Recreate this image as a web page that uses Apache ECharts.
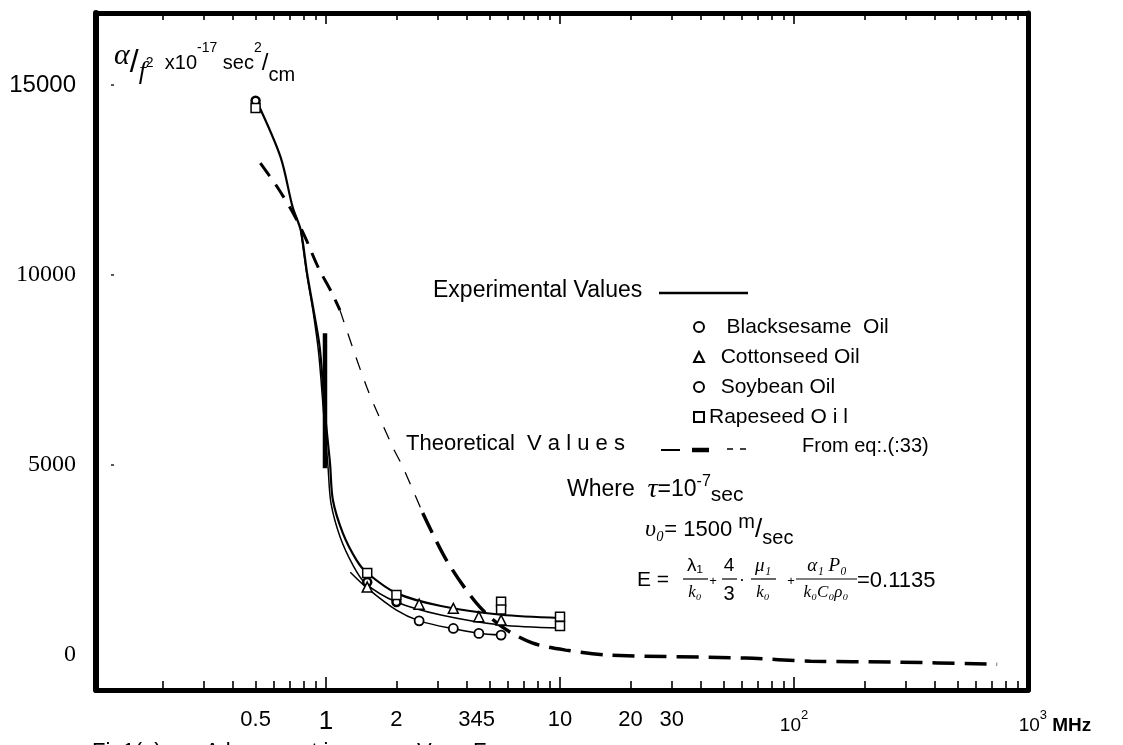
<!DOCTYPE html>
<html style="height: 100%">
<head>
    <meta charset="utf-8">
    <script type="text/javascript" src="https://cdn.jsdelivr.net/npm/echarts@6/dist/echarts.min.js"></script>
</head>
<body style="height: 100%; margin: 0; background: #fff">
    <div id="absChart" style="width: 1123px; height: 745px;"></div>

    <script type="text/javascript">
        // frequency in MHz, alpha/f^2 in 10^-17 sec^2/cm

        // experimental curves (solid)
        var upperFreq = [0.51, 0.64, 0.72, 0.78, 0.83, 0.88, 0.94, 0.99, 1.04, 1.07, 1.18, 1.35, 1.5, 2, 3.1, 5.6, 10];
        var upperVal = [14530, 13100, 11790, 11180, 10050, 9160, 8100, 6370, 5050, 4080, 3210, 2500, 2160, 1630, 1290, 1060, 975];
        var middleFreq = [0.78, 0.83, 0.88, 0.93, 0.98, 1.02, 1.05, 1.15, 1.3, 1.47, 2, 3.1, 5.6, 10];
        var middleVal = [11180, 9980, 9050, 7950, 6250, 4950, 4000, 3100, 2380, 1895, 1395, 1053, 789, 711];
        var lowerFreq = [1.27, 1.5, 2, 2.5, 3.5, 4.5, 5.6];
        var lowerVal = [2180, 1760, 1180, 900, 690, 575, 526];

        // thick bar drawn across the curve at 1 MHz
        var barFreq = [0.99, 0.99];
        var barVal = [8470, 4920];

        // theoretical curve (dashed), three stroke styles
        var theoryAFreq = [0.524, 0.619, 0.724, 0.814, 0.925, 1.06, 1.147];
        var theoryAVal = [12950, 12320, 11630, 11000, 10210, 9530, 9080];
        var theoryBFreq = [1.147, 1.494, 1.93, 2.13, 2.59];
        var theoryBVal = [9080, 7050, 5470, 4950, 3740];
        var theoryCFreq = [2.59, 3.27, 4.39, 5.66, 7.6, 10.6, 16.2, 62, 118, 264, 738];
        var theoryCVal = [3740, 2500, 1370, 740, 320, 130, 0, -80, -160, -185, -240];

        // measured points
        var blackFreq = [0.5, 1.5, 2];
        var blackVal = [14590, 1920, 1395];
        var cottonFreq = [1.5, 2.5, 3.5, 4.5, 5.6];
        var cottonVal = [1790, 1340, 1230, 1010, 920];
        var soyFreq = [2.5, 3.5, 4.5, 5.6];
        var soyVal = [900, 700, 570, 525];
        var rapeFreq = [0.5, 1.5, 2, 5.6, 5.6, 10, 10];
        var rapeVal = [14400, 2160, 1580, 1400, 1200, 1010, 765];

        // axes
        var xLabelValues = [0.5, 1, 2, 4.4, 10, 20, 30, 100, 1000];
        var xLabelTexts = ['0.5', '1', '2', '345', '10', '20', '30', '10^2', '10^3 MHz'];
        var xMajorTicks = [1, 10, 100];
        var xMinorTicks = [0.2, 0.3, 0.4, 0.5, 0.6, 0.7, 0.8, 0.9, 2, 3, 4, 5, 6, 7, 8, 9,
            20, 30, 40, 50, 60, 70, 80, 90, 200, 300, 400, 500, 600, 700, 800, 900];
        var yLabelValues = [0, 5000, 10000, 15000];
        var yMarkValues = [5000, 10000, 15000];

        var SANS = '"Liberation Sans", Arial, sans-serif';
        var SERIF = '"Liberation Serif", "Times New Roman", serif';
        var X_MIN = 0.104, X_MAX = 1000, Y_MIN = -920, Y_MAX = 16900;

        function pairs(xs, ys) {
            return xs.map(function (x, i) { return [x, ys[i]]; });
        }

        function xLabel(v) {
            for (var i = 0; i < xLabelValues.length; i++) {
                if (Math.abs(v - xLabelValues[i]) < 1e-6 * xLabelValues[i]) {
                    var s = xLabelTexts[i];
                    if (s === '1') return '{big|1}';
                    if (s === '10^2') return '{p|10}{sup|2}';
                    if (s === '10^3 MHz') return '{pad| }{p|10}{sup|3}{mhz| MHz}';
                    return s;
                }
            }
            return '';
        }

        function yLabel(v) {
            return v === 15000 ? '{n|15000}' : '{s|' + v + '}';
        }

        // one log x axis: position, ticks, tick length, draw line?, labels?
        function freqAxis(pos, ticks, len, line, labels) {
            return {
                type: 'log',
                logBase: 10,
                min: X_MIN,
                max: X_MAX,
                position: pos,
                axisLine: { show: line, onZero: false, lineStyle: { color: '#000', width: 5 } },
                axisTick: { show: true, inside: true, length: len, customValues: ticks, lineStyle: { color: '#000', width: 1.6 } },
                axisLabel: labels ? {
                    show: true,
                    customValues: xLabelValues,
                    formatter: xLabel,
                    margin: 19,
                    fontSize: 22,
                    fontFamily: SANS,
                    color: '#000',
                    rich: {
                        big: { fontSize: 26, fontFamily: SANS, color: '#000' },
                        p: { fontSize: 19, fontFamily: SANS, color: '#000', verticalAlign: 'bottom', lineHeight: 26 },
                        sup: { fontSize: 13, fontFamily: SANS, color: '#000', verticalAlign: 'top', lineHeight: 13 },
                        mhz: { fontSize: 19, fontWeight: 'bold', fontFamily: SANS, color: '#000', verticalAlign: 'bottom', lineHeight: 26 },
                        pad: { width: 54 }
                    }
                } : { show: false },
                splitLine: { show: false },
                minorTick: { show: false }
            };
        }

        function txt(x, y, s, size, extra) {
            var style = {
                text: s, fontSize: size || 22, fontFamily: SANS, fill: '#000',
                align: 'left', verticalAlign: 'middle', textAlign: 'left', textVerticalAlign: 'middle'
            };
            for (var k in (extra || {})) style[k] = extra[k];
            return { type: 'text', x: x, y: y, silent: true, style: style };
        }

        function seg(x1, y1, x2, y2, w) {
            return { type: 'line', silent: true, shape: { x1: x1, y1: y1, x2: x2, y2: y2 }, style: { stroke: '#000', lineWidth: w || 1.5 } };
        }

        var C = { align: 'center', textAlign: 'center' };
        var CI = { align: 'center', textAlign: 'center', fontStyle: 'italic', fontFamily: SERIF };
        var TOP = { verticalAlign: 'top', textVerticalAlign: 'top' };

        var notes = [
            // y axis title
            txt(114, 63, '{a|α}{sl|/}{f|f}{s2|2}  {t|x10}{sup|-17}{t| sec}{sup|2}{sl2|/}{sub|cm}', 20, {
                rich: {
                    a: { fontSize: 30, fontFamily: SERIF, fontStyle: 'italic', verticalAlign: 'top', lineHeight: 26 },
                    sl: { fontSize: 32, fontFamily: SANS, verticalAlign: 'middle', lineHeight: 44 },
                    f: { fontSize: 26, fontFamily: SERIF, fontStyle: 'italic', verticalAlign: 'bottom', lineHeight: 30 },
                    s2: { fontSize: 14, fontFamily: SANS, verticalAlign: 'middle', lineHeight: 20 },
                    t: { fontSize: 20, fontFamily: SANS, verticalAlign: 'middle', lineHeight: 20 },
                    sup: { fontSize: 14, fontFamily: SANS, verticalAlign: 'top', lineHeight: 30 },
                    sl2: { fontSize: 24, fontFamily: SANS, verticalAlign: 'middle', lineHeight: 24 },
                    sub: { fontSize: 20, fontFamily: SANS, verticalAlign: 'bottom', lineHeight: 34 }
                }
            }),
            // legend headings
            txt(433, 291, 'Experimental Values', 23),
            seg(659, 293, 748, 293, 2.5),
            txt(406, 444, 'Theoretical  V a l u e s', 22),
            seg(661, 450, 680, 450, 2),
            seg(692, 450, 709, 450, 4.5),
            seg(727, 449, 733, 449, 1.5),
            seg(740, 449, 746, 449, 1.5),
            txt(802, 446, 'From eq:.(:33)', 20),
            // parameters
            txt(567, 490, '{t|Where  }{tau|τ}{t|=10}{sup|-7}{s|sec}', 23, {
                rich: {
                    t: { fontSize: 23, fontFamily: SANS, verticalAlign: 'middle', lineHeight: 32 },
                    tau: { fontSize: 28, fontFamily: SERIF, fontStyle: 'italic', verticalAlign: 'middle', lineHeight: 32 },
                    sup: { fontSize: 16, fontFamily: SANS, verticalAlign: 'top', lineHeight: 16 },
                    s: { fontSize: 21, fontFamily: SANS, verticalAlign: 'bottom', lineHeight: 28 }
                }
            }),
            txt(645, 530, '{u|υ₀}{t|= 1500 }{sup|m}{sl|/}{sub|sec}', 22, {
                rich: {
                    u: { fontSize: 24, fontFamily: SERIF, fontStyle: 'italic', verticalAlign: 'middle', lineHeight: 36 },
                    t: { fontSize: 22, fontFamily: SANS, verticalAlign: 'middle', lineHeight: 36 },
                    sup: { fontSize: 20, fontFamily: SANS, verticalAlign: 'top', lineHeight: 20 },
                    sl: { fontSize: 26, fontFamily: SANS, verticalAlign: 'middle', lineHeight: 36 },
                    sub: { fontSize: 20, fontFamily: SANS, verticalAlign: 'bottom', lineHeight: 22 }
                }
            }),
            // E = lambda1/k0 + 4/3 . mu1/k0 + alpha1 P0/(k0 C0 rho0) = 0.1135
            txt(637, 580, 'E =', 21),
            txt(695, 566, 'λ₁', 19, C),
            seg(683, 579, 708, 579, 1.2),
            txt(695, 593, 'k₀', 17, CI),
            txt(713, 581, '+', 13, C),
            txt(729, 566, '4', 19, C),
            seg(722, 579, 737, 579, 1.2),
            txt(729, 594, '3', 20, C),
            txt(742, 580, '·', 18, C),
            txt(763, 566, 'μ₁', 19, CI),
            seg(751, 579, 776, 579, 1.2),
            txt(763, 593, 'k₀', 17, CI),
            txt(791, 581, '+', 13, C),
            txt(827, 566, 'α₁ P₀', 19, CI),
            seg(796, 579, 857, 579, 1.2),
            txt(826, 593, 'k₀C₀ρ₀', 17, CI),
            txt(857, 581, '=0.1135', 22),
            // figure caption, cut by the page edge
            txt(92, 741, 'Fig1(  )', 22, TOP),
            txt(205, 741, 'A b s o r p t i o n', 22, TOP),
            txt(417, 741, 'V s', 22, TOP),
            txt(473, 741, 'Frequency', 22, TOP)
        ];

        function solid(data, w) {
            return { type: 'line', data: data, smooth: 0.3, symbol: 'none', silent: true, z: 2,
                lineStyle: { color: '#000', width: w } };
        }

        function dashed(data, w, dash) {
            return { type: 'line', data: data, smooth: 0.3, symbol: 'none', silent: true, z: 2,
                lineStyle: { color: '#000', width: w, type: dash } };
        }

        function points(name, data, symbol, size, bw) {
            return { type: 'scatter', name: name, data: data, symbol: symbol, symbolSize: size, silent: true, z: 4,
                itemStyle: { color: '#fff', borderColor: '#000', borderWidth: bw, opacity: 1 } };
        }

        var absChart = echarts.init(document.getElementById('absChart'));

        var option = {
            animation: false,
            backgroundColor: '#fff',
            grid: { left: 96, right: 95, top: 13, bottom: 55, outerBoundsMode: 'none' },
            legend: {
                orient: 'vertical',
                left: 688,
                top: 311,
                itemWidth: 10,
                itemHeight: 10,
                itemGap: 8,
                symbolKeepAspect: true,
                selectedMode: false,
                data: ['   Blacksesame  Oil', '  Cottonseed Oil', '  Soybean Oil', 'Rapeseed O i l'],
                textStyle: { fontSize: 21, fontFamily: SANS, color: '#000', lineHeight: 22 }
            },
            xAxis: [
                freqAxis('bottom', xMajorTicks, 13, true, true),
                freqAxis('bottom', xMinorTicks, 9, false, false),
                freqAxis('top', xMajorTicks, 11, true, false),
                freqAxis('top', xMinorTicks, 7, false, false)
            ],
            yAxis: [
                {
                    type: 'value', min: Y_MIN, max: Y_MAX, position: 'left',
                    axisLine: { show: true, onZero: false, lineStyle: { color: '#000', width: 6 } },
                    axisTick: { show: false },
                    axisLabel: {
                        customValues: yLabelValues, formatter: yLabel, margin: 20, color: '#000',
                        rich: {
                            n: { fontSize: 24, fontFamily: '"Liberation Sans Narrow", "Liberation Sans", sans-serif', color: '#000' },
                            s: { fontSize: 24, fontFamily: SERIF, color: '#000' }
                        }
                    },
                    splitLine: { show: false }
                },
                {
                    type: 'value', min: Y_MIN, max: Y_MAX, position: 'right',
                    axisLine: { show: true, onZero: false, lineStyle: { color: '#000', width: 5 } },
                    axisTick: { show: false }, axisLabel: { show: false }, splitLine: { show: false }
                },
                {
                    // faint marks left over inside the frame
                    type: 'value', min: Y_MIN, max: Y_MAX, position: 'left', offset: -15,
                    axisLine: { show: false, onZero: false },
                    axisTick: { show: true, inside: true, length: 3, customValues: yMarkValues, lineStyle: { color: '#222', width: 1.5 } },
                    axisLabel: { show: false }, splitLine: { show: false }
                }
            ],
            graphic: notes,
            series: [
                solid(pairs(upperFreq, upperVal), 2.2),
                solid(pairs(middleFreq, middleVal), 1.5),
                solid(pairs(lowerFreq, lowerVal), 1.5),
                solid(pairs(barFreq, barVal), 4.5),
                dashed(pairs(theoryAFreq, theoryAVal), 3, [16, 10]),
                dashed(pairs(theoryBFreq, theoryBVal), 1.3, [13, 12]),
                dashed(pairs(theoryCFreq, theoryCVal), 3.5, [22, 10]),
                points('   Blacksesame  Oil', pairs(blackFreq, blackVal), 'circle', 8, 2.5),
                points('  Cottonseed Oil', pairs(cottonFreq, cottonVal), 'triangle', 10, 1.5),
                points('  Soybean Oil', pairs(soyFreq, soyVal), 'circle', 9, 1.8),
                points('Rapeseed O i l', pairs(rapeFreq, rapeVal), 'rect', 9, 1.5)
            ]
        };

        absChart.setOption(option);
    </script>
</body>
</html>
